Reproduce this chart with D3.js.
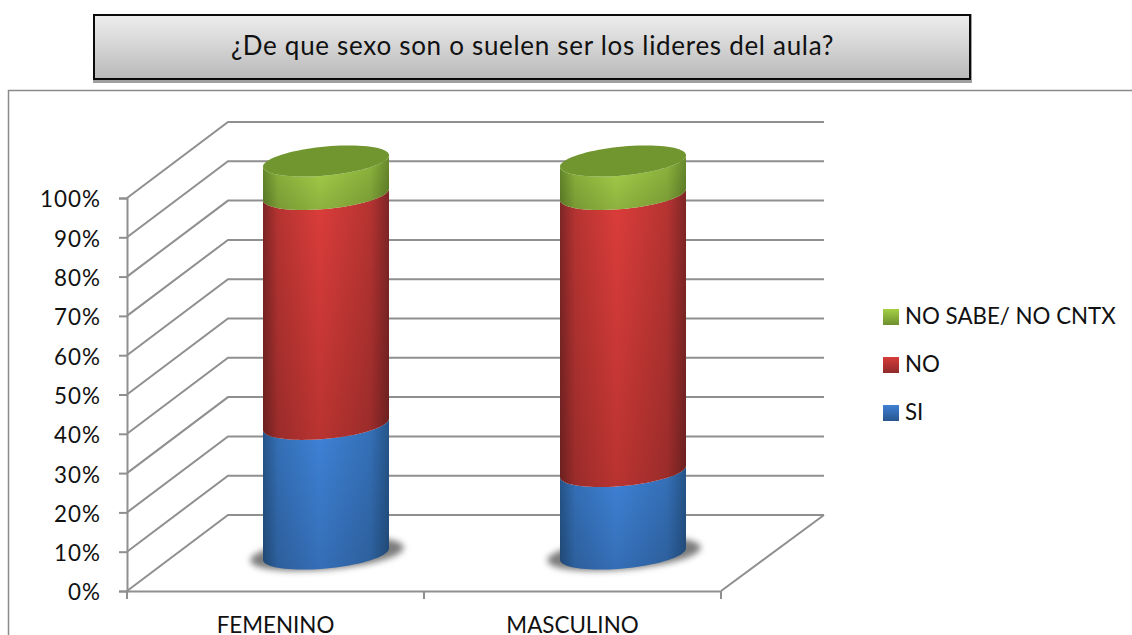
<!DOCTYPE html>
<html><head><meta charset="utf-8">
<script src="https://cdnjs.cloudflare.com/ajax/libs/d3/7.8.5/d3.min.js"></script>
<style>html,body{margin:0;padding:0;background:#fff;overflow:hidden}text{font-family:Lato,"Open Sans",sans-serif;fill:#111}</style>
</head><body><svg id="c" width="1132" height="635"></svg>
<script>
const titleText = "¿De que sexo son o suelen ser los lideres del aula?";
const categories = ["FEMENINO", "MASCULINO"];
const si = [33, 21];
const no = [58.5, 70.5];
const noSabe = [8.5, 8.5];
const seriesNames = ["SI", "NO", "NO SABE/ NO CNTX"];
const yTicks = [0,10,20,30,40,50,60,70,80,90,100];
const palette = [
  {edge:"#26558a", mid:"#3f83d9", swatchA:"#3f80d4", swatchB:"#28568f"},
  {edge:"#7f2626", mid:"#dc3d3a", swatchA:"#d63c3a", swatchB:"#8f2a2a"},
  {edge:"#688a2c", mid:"#a9d34a", swatchA:"#a4cf45", swatchB:"#6f8f2f"}
];
const svg = d3.select("#c");
const defs = svg.append("defs");

const y = d3.scaleLinear().domain([0,100]).range([591,198]);
const x = d3.scaleBand().domain(categories).range([127,721]);
const depthX = 101, depthY = -76;
const barW = 126, semiMinor = 14.5, skew = 5.7, barShiftX = 50.5, barShiftY = -37;

// frame
svg.append("path").attr("d","M8.5 635V90.5H1132").attr("fill","none").attr("stroke","#8a8a8a").attr("stroke-width",1.5);

// title box
const tg = defs.append("linearGradient").attr("id","tg").attr("x1",0).attr("x2",0).attr("y1",0).attr("y2",1);
tg.append("stop").attr("offset",0).attr("stop-color","#eeeeee");
tg.append("stop").attr("offset",1).attr("stop-color","#b9b9b9");
svg.append("rect").attr("x",93).attr("y",14).attr("width",879).attr("height",69).attr("fill","#a0a0a0");
svg.append("rect").attr("x",94).attr("y",15).attr("width",876).attr("height",64).attr("fill","url(#tg)").attr("stroke","#0a0a0a").attr("stroke-width",2);
svg.append("text").attr("x",532.5).attr("y",55).attr("text-anchor","middle").attr("font-size",26).attr("letter-spacing",0.7).text(titleText);

// walls
const gridG = svg.append("g").attr("fill","none").attr("stroke","#8f8f8f").attr("stroke-width",2);
const backRight = 824;
yTicks.forEach(v=>{
  const yy = y(v);
  gridG.append("path").attr("d",d3.line()([[127,yy],[127+depthX,yy+depthY],[backRight,yy+depthY]]));
});
gridG.append("path").attr("d",d3.line()([[721,y(0)],[backRight,y(0)+depthY]]));

// axes
const yAxis = d3.axisLeft(y).tickValues(yTicks).tickFormat(d=>d+"%").tickSize(8).tickPadding(18);
const yg = svg.append("g").attr("transform","translate(127,0)").call(yAxis);
const xAxis = d3.axisBottom(x).tickSize(0);
const xg = svg.append("g").attr("transform","translate(0,591)").call(xAxis);
[yg,xg].forEach(g=>{
  g.selectAll("path.domain").attr("stroke","#8f8f8f").attr("stroke-width",2);
  g.selectAll("line").attr("stroke","#8f8f8f").attr("stroke-width",2);
  g.selectAll("text").attr("font-size",22.4).attr("font-family",'Lato,"Open Sans",sans-serif').attr("fill","#111");
});
yg.selectAll("text").attr("dy","0.4em").attr("letter-spacing",1);
xg.selectAll(".tick text").attr("dy","0.36em").attr("y",34);
// x boundary ticks
const boundaries = [x.range()[0], x(categories[1]), x.range()[1]];
svg.append("g").selectAll("line").data(boundaries).join("line")
  .attr("x1",d=>d).attr("x2",d=>d).attr("y1",591).attr("y2",599)
  .attr("stroke","#8f8f8f").attr("stroke-width",2);

// gradients
const blur = defs.append("filter").attr("id","blur").attr("x","-20%").attr("y","-40%").attr("width","140%").attr("height","180%");
blur.append("feGaussianBlur").attr("stdDeviation",3);
palette.forEach((p,i)=>{
  const g = defs.append("linearGradient").attr("id","h"+i);
  g.append("stop").attr("offset",0).attr("stop-color",p.edge);
  g.append("stop").attr("offset",.12).attr("stop-color",d3.interpolateRgb(p.edge,p.mid)(.6));
  g.append("stop").attr("offset",.45).attr("stop-color",p.mid);
  g.append("stop").attr("offset",.85).attr("stop-color",d3.interpolateRgb(p.edge,p.mid)(.6));
  g.append("stop").attr("offset",1).attr("stop-color",p.edge);
  const s = defs.append("linearGradient").attr("id","s"+i).attr("x1",0).attr("x2",0).attr("y1",0).attr("y2",1);
  s.append("stop").attr("offset",0).attr("stop-color",p.swatchA);
  s.append("stop").attr("offset",1).attr("stop-color",p.swatchB);
});
const shade = defs.append("linearGradient").attr("id","shade").attr("x1",0).attr("x2",0).attr("y1",0).attr("y2",1);
shade.append("stop").attr("offset",0).attr("stop-color","#000").attr("stop-opacity",0);
shade.append("stop").attr("offset",1).attr("stop-color","#000").attr("stop-opacity",.16);

// cylinders
const a = barW/2;
const samples = d3.range(0,41).map(i=>i/40*Math.PI);
const line = d3.line();
function frontArc(cx, cy){
  return samples.map(t=>{
    const c = -Math.cos(t);
    return [cx + a*c, cy - skew*c + semiMinor*Math.sin(t)];
  });
}
function backArc(cx, cy){
  return samples.map(t=>{
    const c = Math.cos(t);
    return [cx + a*c, cy - skew*c - semiMinor*Math.sin(t)];
  });
}
const barsG = svg.append("g");
categories.forEach((cat,ci)=>{
  const cx = x(cat)+x.bandwidth()/2+barShiftX;
  const vals = [si[ci],no[ci],noSabe[ci]];
  const stacked = d3.cumsum(vals);
  const base = y(0)+barShiftY;
  const yv = v => y(v)+barShiftY;
  barsG.append("ellipse").attr("cx",cx+1).attr("cy",base).attr("rx",a+14).attr("ry",semiMinor+1)
    .attr("transform",`rotate(-5 ${cx} ${base})`).attr("fill","#7c7c7c").attr("filter","url(#blur)");
  vals.forEach((v,i)=>{
    const lo = i?stacked[i-1]:0, hi = stacked[i];
    const low = frontArc(cx,yv(lo));
    const high = frontArc(cx,yv(hi)).reverse();
    const d = line(low.concat(high))+"Z";
    barsG.append("path").attr("d",d).attr("fill",`url(#h${i})`);
    barsG.append("path").attr("d",d).attr("fill","url(#shade)");
  });
  const top = yv(stacked[2]);
  barsG.append("path").attr("d",line(frontArc(cx,top).concat(backArc(cx,top)))+"Z").attr("fill","#71962f");
});

// legend
const legendRows = [2,1,0];
const lg = svg.append("g").selectAll("g").data(legendRows).join("g")
  .attr("transform",(d,i)=>`translate(883,${309+i*48})`);
lg.append("rect").attr("width",16).attr("height",16).attr("fill",d=>`url(#s${d})`);
lg.append("text").attr("x",22).attr("y",15).attr("font-size",22.3).text(d=>seriesNames[d]);
</script></body></html>
